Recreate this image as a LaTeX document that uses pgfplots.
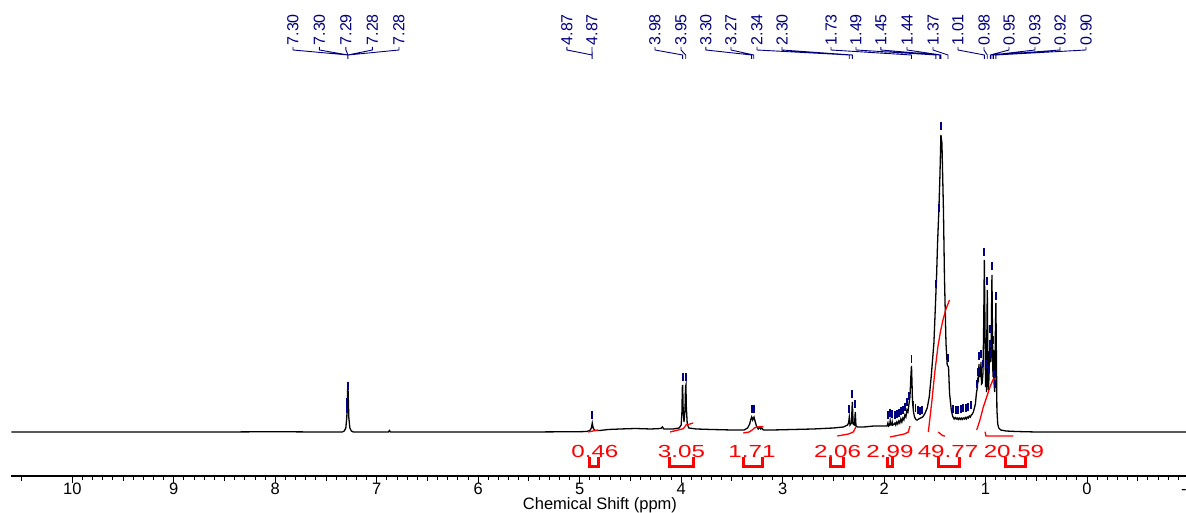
\documentclass[border=0pt]{standalone}
\usepackage{fontspec}
\setmainfont{Liberation Sans}
\usepackage{graphicx}
\usepackage{pgfplots}
\pgfplotsset{compat=1.18}
\definecolor{pk}{RGB}{0,0,128}
\definecolor{ig}{RGB}{255,0,0}
\newcommand{\pl}[2]{\node[rotate=90,anchor=west,inner sep=0pt,text=pk,font=\fontsize{16}{17}\selectfont] at (axis cs:#1,386.5) {#2};}
\newcommand{\il}[2]{\node[text=ig,inner sep=0pt,font=\fontsize{17.5}{19}\selectfont] at (axis cs:#1,-19) {\scalebox{1.38}[1]{#2}};}
\begin{document}
\begin{tikzpicture}
\begin{axis}[
  scale only axis, width=1177pt, height=476pt,
  xmin=-1, xmax=10.6, ymin=-44, ymax=432,
  x dir=reverse, clip=false,
  axis y line=none, axis x line*=bottom,
  axis line style={black, line width=1.2pt},
  xtick={-1,0,1,2,3,4,5,6,7,8,9,10},
  minor x tick num=9,
  extra x ticks={-0.5,0.5,1.5,2.5,3.5,4.5,5.5,6.5,7.5,8.5,9.5,10.5},
  extra x tick labels={},
  extra x tick style={major tick length=5pt},
  tick align=outside,
  major tick length=7pt, minor tick length=4pt,
  every tick/.style={black, line width=1pt},
  /pgf/number format/assume math mode=true,
  xticklabel style={font=\fontsize{16.5}{18}\selectfont, inner sep=0pt, anchor=north},
  xlabel={Chemical Shift (ppm)},
  xlabel style={font=\fontsize{16.5}{18}\selectfont, at={(axis description cs:0.5,0)}, anchor=north, inner sep=0pt, yshift=-21.5pt},
]
% spectrum
\addplot[black, line width=1.3pt] coordinates {
(10.6,0) (8.5,0) (8.0,0.3) (7.6,0) (7.34,0) (7.32,1) (7.305,4) (7.295,15) (7.29,30) (7.285,50) (7.28,32) (7.275,14) (7.265,4) (7.25,1) (7.23,0)
(6.885,0) (6.875,1.5) (6.865,0) (5.5,0) (5.0,0.3) (4.93,0.5) (4.90,1.5) (4.885,4) (4.876,9) (4.867,4) (4.85,1.5) (4.80,1.5) (4.72,2.5)
(4.6,3) (4.45,3.5) (4.3,3) (4.2,3.5) (4.185,5) (4.17,3) (4.08,3) (4.02,4) (4.0,7) (3.993,18) (3.988,45) (3.985,47) (3.981,25) (3.972,10)
(3.962,22) (3.957,45) (3.953,47) (3.949,25) (3.94,8) (3.925,4) (3.85,3) (3.7,2.5) (3.5,2) (3.38,2) (3.345,4) (3.325,8) (3.312,13) (3.305,15)
(3.295,12) (3.288,14) (3.282,15) (3.272,11) (3.258,6) (3.24,3) (3.225,5) (3.215,3) (3.205,4) (3.19,2) (3.1,2) (2.9,2.5) (2.7,3) (2.5,4)
(2.4,5) (2.36,7) (2.35,9) (2.343,15) (2.336,7) (2.322,9) (2.313,30) (2.305,8) (2.292,7) (2.284,20) (2.277,6) (2.26,5) (2.2,5) (2.1,6) (2.0,6)
(1.97,6) (1.962,9) (1.955,6) (1.945,7) (1.94,11) (1.935,7) (1.925,7) (1.92,10) (1.915,7) (1.90,8) (1.893,9) (1.885,7) (1.875,10) (1.865,8)
(1.855,11) (1.845,9) (1.835,13) (1.825,10) (1.815,14) (1.805,12) (1.795,17) (1.785,15) (1.775,22) (1.765,20) (1.755,28) (1.745,35) (1.735,58)
(1.73,66) (1.725,50) (1.72,30) (1.71,20) (1.70,15) (1.69,13) (1.68,12) (1.67,12) (1.66,13) (1.64,14) (1.62,15) (1.60,18) (1.575,24) (1.555,35)
(1.536,55) (1.509,89) (1.496,122) (1.483,155) (1.473,189) (1.46,222) (1.45,255) (1.44,297) (1.43,289) (1.415,222) (1.405,155) (1.39,89)
(1.378,67) (1.365,65) (1.355,39) (1.338,22) (1.325,16) (1.32,15) (1.31,13) (1.30,14.5) (1.29,13) (1.28,14) (1.27,12.5) (1.26,14) (1.25,12.5)
(1.24,14) (1.23,12.5) (1.22,14) (1.21,13) (1.20,14.5) (1.19,13) (1.18,15) (1.17,14) (1.16,16) (1.15,15) (1.14,17) (1.13,18) (1.12,20) (1.10,28)
(1.09,39) (1.08,45) (1.075,55) (1.07,50) (1.065,68) (1.06,55) (1.055,62) (1.05,55) (1.045,70) (1.04,48) (1.033,49) (1.025,60) (1.018,110)
(1.012,172) (1.006,110) (1.0,45) (0.995,60) (0.99,40) (0.987,100) (0.983,142) (0.978,85) (0.972,42) (0.966,55) (0.96,80) (0.953,92) (0.948,70)
(0.943,100) (0.937,157) (0.931,90) (0.927,55) (0.922,82) (0.917,50) (0.91,40) (0.904,95) (0.898,129) (0.893,75) (0.888,22) (0.88,8) (0.87,4)
(0.85,2) (0.80,1) (0.7,0.5) (0.5,0) (-1,0)
};
% peak-pick markers
\addplot[only marks, mark=|, mark size=4pt, pk, mark options={line width=1.9pt}] coordinates {
(7.286,46) (7.288,38) (7.29,30) (7.292,23) (4.876,17) (3.985,55) (3.953,55) (3.305,23) (3.282,23)
(2.343,23) (2.313,38) (2.284,28)
(1.962,17) (1.94,19) (1.92,18) (1.893,17) (1.875,18) (1.855,19) (1.835,21) (1.815,22) (1.795,25) (1.775,30) (1.755,36)
(1.73,73) (1.71,27) (1.69,24) (1.67,22) (1.65,21) (1.63,22)
(1.488,148) (1.458,224) (1.44,306) (1.37,74)
(1.32,23) (1.295,22) (1.27,22) (1.245,23) (1.22,24) (1.195,24) (1.17,25) (1.145,27)
(1.085,48) (1.075,60) (1.065,76) (1.045,78) (1.03,68)
(0.995,68) (0.966,63) (0.96,88) (0.948,78) (0.917,58) (0.91,48)
(1.012,180) (0.983,151) (0.953,103) (0.937,166) (0.922,92) (0.898,136)
};
% peak label leaders
\addplot[pk, line width=0.9pt, unbounded coords=jump] coordinates {
(7.826,385) (7.826,382) (7.284,377) (7.284,373) (nan,nan)
(7.565,385) (7.565,382) (7.284,377) (7.284,373) (nan,nan)
(7.304,385) (7.304,382) (7.284,377) (7.284,373) (nan,nan)
(7.043,385) (7.043,382) (7.284,377) (7.284,373) (nan,nan)
(6.781,385) (6.781,382) (7.284,377) (7.284,373) (nan,nan)
(5.126,385) (5.126,382) (4.877,377) (4.877,373) (nan,nan)
(4.879,385) (4.879,382) (4.877,377) (4.877,373) (nan,nan)
(4.258,385) (4.258,382) (3.985,377) (3.985,373) (nan,nan)
(4.002,385) (4.002,382) (3.955,377) (3.955,373) (nan,nan)
(3.756,385) (3.756,382) (3.305,377) (3.305,373) (nan,nan)
(3.509,385) (3.509,382) (3.285,377) (3.285,373) (nan,nan)
(3.253,385) (3.253,382) (2.343,377) (2.343,373) (nan,nan)
(3.006,385) (3.006,382) (2.313,377) (2.313,373) (nan,nan)
(2.523,385) (2.523,382) (1.73,377) (1.73,373) (nan,nan)
(2.277,385) (2.277,382) (1.49,377) (1.49,373) (nan,nan)
(2.031,385) (2.031,382) (1.45,377) (1.45,373) (nan,nan)
(1.774,385) (1.774,382) (1.44,377) (1.44,373) (nan,nan)
(1.518,385) (1.518,382) (1.37,377) (1.37,373) (nan,nan)
(1.272,385) (1.272,382) (1.012,377) (1.012,373) (nan,nan)
(1.015,385) (1.015,382) (0.983,377) (0.983,373) (nan,nan)
(0.769,385) (0.769,382) (0.953,377) (0.953,373) (nan,nan)
(0.513,385) (0.513,382) (0.937,377) (0.937,373) (nan,nan)
(0.266,385) (0.266,382) (0.922,377) (0.922,373) (nan,nan)
(0.010,385) (0.010,382) (0.898,377) (0.898,373)
};
% integral curves and leaders
\addplot[ig, line width=1.3pt, unbounded coords=jump] coordinates {
(4.916,0) (4.89,0.5) (4.87,1) (4.845,1.5) (4.817,2) (nan,nan)
(4.11,0) (4.029,2) (3.979,3.3) (3.965,5) (3.953,7) (3.913,8) (3.881,9) (nan,nan)
(3.388,-1) (3.33,0) (3.30,2) (3.28,4) (3.25,5) (3.19,5.5) (nan,nan)
(2.461,-4) (2.35,-2) (2.304,0) (2.277,5) (nan,nan)
(1.942,-5) (1.80,-2) (1.761,0) (1.745,6) (nan,nan)
(1.564,0) (1.53,30) (1.50,60) (1.47,85) (1.445,100) (1.42,112) (1.39,123) (1.355,132) (nan,nan)
(1.087,2) (1.055,12) (1.022,25) (0.989,35) (0.956,45) (0.924,53) (0.907,55) (nan,nan)
(1.466,0) (1.422,-3.7) (1.40,-4) (nan,nan)
(1.005,0.3) (0.996,-4) (0.726,-4)
};
% integral brackets
\addplot[ig, line width=3pt, unbounded coords=jump] coordinates {
(4.906,-25) (4.906,-35) (4.817,-35) (4.817,-25) (nan,nan)
(4.117,-25) (4.117,-35) (3.881,-35) (3.881,-25) (nan,nan)
(3.388,-25) (3.388,-35) (3.201,-35) (3.201,-25) (nan,nan)
(2.526,-25) (2.526,-35) (2.402,-35) (2.402,-25) (nan,nan)
(1.968,-25) (1.968,-35) (1.915,-35) (1.915,-25) (nan,nan)
(1.466,-25) (1.466,-35) (1.259,-35) (1.259,-25) (nan,nan)
(0.808,-25) (0.808,-35) (0.611,-35) (0.611,-25)
};
% peak labels
\pl{7.826}{7.30}\pl{7.565}{7.30}\pl{7.304}{7.29}\pl{7.043}{7.28}\pl{6.781}{7.28}
\pl{5.126}{4.87}\pl{4.879}{4.87}
\pl{4.258}{3.98}\pl{4.002}{3.95}
\pl{3.756}{3.30}\pl{3.509}{3.27}
\pl{3.253}{2.34}\pl{3.006}{2.30}
\pl{2.523}{1.73}\pl{2.277}{1.49}\pl{2.031}{1.45}\pl{1.774}{1.44}\pl{1.518}{1.37}
\pl{1.272}{1.01}\pl{1.015}{0.98}\pl{0.769}{0.95}\pl{0.513}{0.93}\pl{0.266}{0.92}\pl{0.010}{0.90}
% integral labels
\il{4.85}{0.46}\il{3.997}{3.05}\il{3.302}{1.71}\il{2.459}{2.06}\il{1.942}{2.99}\il{1.370}{49.77}\il{0.720}{20.59}
\end{axis}
\pgfresetboundingbox
\path[use as bounding box] (-11.5pt,-37pt) rectangle (1174.5pt,476pt);
\end{tikzpicture}
\end{document}
